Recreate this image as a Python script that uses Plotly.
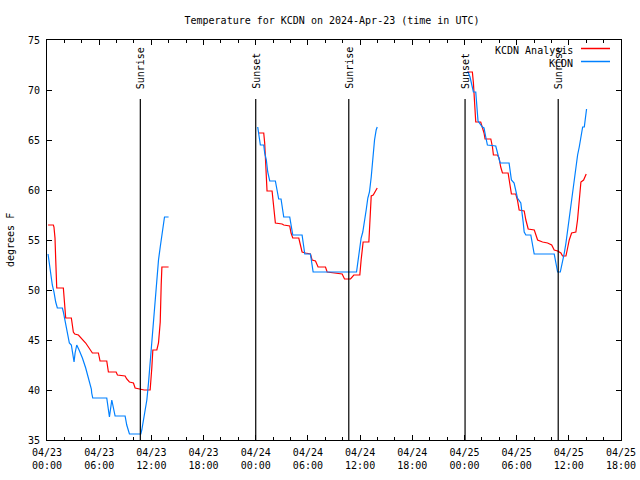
import pandas as pd
import plotly.graph_objects as go

# ---------------- data (hours after 2024-04-23 00:00 UTC, degrees F) ----------------
ana_h1 = [0.12, 0.73, 0.80, 0.92, 1.00, 1.12, 1.12, 1.88, 1.96, 2.07, 2.15, 2.80, 2.88, 3.03, 3.19,
          3.61, 4.45, 5.03, 5.22, 5.91, 6.10, 6.87, 7.06, 7.95, 8.10, 8.98, 9.17, 9.48, 9.94, 10.13,
          10.71, 11.17, 11.86, 11.94, 12.05, 12.17, 12.63, 12.82, 12.90, 13.02, 13.13, 13.21, 13.98]
ana_v1 = [56.5, 56.5, 56.3, 55.2, 53.1, 51.1, 50.2, 50.2, 48.9, 48.0, 47.2, 47.2, 46.8, 45.8, 45.6,
          45.5, 44.7, 44.0, 43.7, 43.7, 42.9, 42.9, 41.8, 41.8, 41.5, 41.4, 41.1, 40.8, 40.7, 40.2,
          40.1, 40.0, 40.0, 40.7, 42.2, 44.0, 44.0, 44.7, 45.5, 46.8, 50.5, 52.3, 52.3]

ana_h2 = [24.34, 24.92, 25.03, 25.10, 25.18, 25.30, 25.88, 26.07, 26.26, 27.03, 27.22, 27.91, 28.06,
          28.26, 28.95, 29.14, 29.33, 29.72, 30.29, 30.48, 30.87, 31.17, 32.02, 32.21, 33.10, 33.36,
          33.94, 34.21, 34.90, 35.28, 35.97, 36.12, 36.35, 37.01, 37.13, 37.28, 37.51, 37.74, 37.97]
ana_v2 = [65.7, 65.7, 64.7, 63.0, 60.8, 59.9, 59.9, 58.3, 56.7, 56.6, 56.5, 56.4, 55.7,
          55.2, 55.2, 54.5, 53.8, 53.7, 53.6, 53.0, 52.9, 52.3, 52.3, 51.8, 51.7, 51.6,
          51.6, 51.1, 51.1, 51.5, 51.5, 53.0, 54.8, 54.8, 57.0, 59.4, 59.5, 59.8, 60.2]

ana_h3 = [48.34, 48.91, 49.03, 49.18, 49.30, 49.87, 50.06, 50.25, 50.37, 51.03, 51.22, 51.33, 51.79,
          51.98, 52.17, 52.37, 53.02, 53.21, 53.40, 53.90, 54.09, 54.29, 54.87, 55.06, 55.33, 56.03,
          56.22, 56.41, 56.98, 57.56, 58.03, 58.32, 58.71, 59.09, 59.28, 59.67, 59.86, 60.05, 60.32,
          60.81, 61.00, 61.20, 61.39, 61.70, 61.85, 62.00]
ana_v3 = [71.8, 71.8, 70.7, 68.3, 66.8, 66.8, 66.3, 65.7, 65.1, 65.1, 64.3, 63.5, 63.5,
          63.2, 62.3, 61.7, 61.7, 60.5, 59.6, 59.6, 59.0, 58.0, 57.9, 57.0, 56.1, 56.0,
          55.5, 55.0, 54.8, 54.7, 54.5, 54.0, 53.9, 53.7, 53.4, 53.4, 54.2, 55.0, 55.7,
          55.8, 57.0, 58.7, 60.8, 61.0, 61.3, 61.6]

obs_h1 = [0.12, 0.23, 0.42, 0.61, 0.80, 0.88, 1.00, 1.19, 1.77, 1.88, 2.07, 2.26, 2.42, 2.57, 2.80,
          2.96, 3.11, 3.23, 3.42, 3.69, 4.07, 4.45, 4.84, 5.10, 5.14, 5.26, 6.87, 7.06, 7.18, 7.45,
          7.64, 7.83, 8.98, 9.17, 9.48, 10.79, 10.90, 11.09, 11.29, 11.48, 11.67, 11.86, 12.05,
          12.25, 12.44, 12.63, 12.82, 13.02, 13.28, 13.51, 13.98]
obs_v1 = [53.6, 52.8, 51.7, 50.5, 49.8, 49.3, 48.8, 48.2, 48.2, 47.8, 47.0, 46.0, 45.3, 44.7, 44.5,
          43.8, 42.8, 43.7, 44.5, 44.0, 43.2, 42.2, 41.0, 40.1, 39.7, 39.2, 39.2, 38.2, 37.3, 39.0,
          38.2, 37.4, 37.4, 36.5, 35.6, 35.6, 36.0, 37.0, 37.8, 39.0, 40.7, 42.7, 44.7,
          47.0, 49.3, 51.3, 53.0, 54.3, 55.7, 57.3, 57.3]

obs_h2 = [24.23, 24.34, 24.53, 24.92, 25.03, 25.22, 25.38, 25.61, 26.26, 26.45, 26.64, 26.91, 27.10,
          27.22, 27.91, 28.06, 28.26, 29.33, 29.52, 29.64, 30.29, 30.41, 30.60, 35.59, 35.74, 35.93,
          36.12, 36.31, 36.51, 36.70, 36.89, 37.08, 37.28, 37.47, 37.66, 37.85, 37.97]
obs_v2 = [66.3, 65.7, 64.5, 64.5, 63.7, 63.0, 61.8, 60.9, 60.9, 60.0, 59.1, 59.1, 58.0,
          57.3, 57.3, 56.3, 55.5, 55.5, 54.5, 53.6, 53.6, 52.7, 51.8, 51.8, 52.7, 54.0,
          55.2, 55.8, 56.8, 58.0, 59.2, 59.8, 61.3, 63.5, 65.0, 66.0, 66.3]

obs_h3 = [48.15, 48.41, 48.64, 48.83, 49.03, 49.30, 49.41, 49.56, 50.06, 50.25, 50.45, 50.64, 51.60,
          51.79, 51.98, 52.10, 53.13, 53.25, 53.40, 53.71, 53.90, 54.09, 54.48, 54.60, 54.75, 54.87,
          55.06, 55.63, 55.83, 56.02, 58.32, 58.51, 58.71, 59.02, 59.28, 59.48, 59.67, 59.86, 60.05,
          60.24, 60.44, 60.63, 60.82, 61.01, 61.20, 61.39, 61.59, 61.78, 61.89, 62.04]
obs_v3 = [71.7, 71.8, 71.3, 70.7, 69.8, 69.8, 68.3, 66.9, 66.3, 66.2, 65.3, 64.5, 64.4,
          63.7, 63.2, 62.7, 62.7, 61.8, 61.0, 60.7, 60.0, 59.2, 58.7, 58.0, 56.8, 55.8,
          55.5, 55.5, 54.5, 53.6, 53.6, 52.8, 51.8, 51.8, 52.7, 53.7, 54.7, 56.0, 57.3,
          58.7, 59.8, 61.0, 62.2, 63.5, 64.3, 65.5, 66.3, 66.3, 67.3, 68.1]

sun_h = [10.73, 24.00, 34.70, 48.07, 58.78]
sun_names = ["Sunrise", "Sunset", "Sunrise", "Sunset", "Sunrise"]

tick_h = [0, 6, 12, 18, 24, 30, 36, 42, 48, 54, 60, 66]
tick_text = ["04/23<br>00:00", "04/23<br>06:00", "04/23<br>12:00", "04/23<br>18:00",
             "04/24<br>00:00", "04/24<br>06:00", "04/24<br>12:00", "04/24<br>18:00",
             "04/25<br>00:00", "04/25<br>06:00", "04/25<br>12:00", "04/25<br>18:00"]
y_ticks = [35, 40, 45, 50, 55, 60, 65, 70, 75]

series_names = ["KCDN Analysis", "KCDN"]
series_colors = ["#ff0000", "#0080ff"]

# ---------------- build ----------------
base = pd.Timestamp("2024-04-23 00:00")


def to_t(hours):
    return [base + pd.Timedelta(hours=h) for h in hours]


def join(segs):
    xs, ys = [], []
    for hs, vs in segs:
        xs += to_t(hs) + [None]
        ys += list(vs) + [None]
    return xs, ys


FONT = "DejaVu Sans Mono"
L, R, T, B = 47, 19, 40, 40
PW, PH = 640 - L - R, 480 - T - B

fig = go.Figure()

ax, ay = join([(ana_h1, ana_v1), (ana_h2, ana_v2), (ana_h3, ana_v3)])
bx, by = join([(obs_h1, obs_v1), (obs_h2, obs_v2), (obs_h3, obs_v3)])
fig.add_trace(go.Scatter(x=ax, y=ay, mode="lines", name=series_names[0],
                         line=dict(color=series_colors[0], width=1.2), connectgaps=False))
fig.add_trace(go.Scatter(x=bx, y=by, mode="lines", name=series_names[1],
                         line=dict(color=series_colors[1], width=1.2), connectgaps=False))

for h, name in zip(sun_h, sun_names):
    t = base + pd.Timedelta(hours=h)
    fig.add_shape(type="line", x0=t, x1=t, y0=35, y1=69.1, xref="x", yref="y",
                  line=dict(color="black", width=1.2))
    fig.add_annotation(x=t, y=69.9, xref="x", yref="y", text=name, textangle=-90,
                       showarrow=False, xanchor="center", yanchor="bottom",
                       font=dict(family=FONT, size=10, color="black"))

# manual gnuplot-style legend (text, then line sample)
leg_py = [50, 63]      # pixel rows of legend entries
for name, col, py in zip(series_names, series_colors, leg_py):
    yy = 1 - (py - T) / PH
    fig.add_annotation(x=(575 - L) / PW, y=yy, xref="paper", yref="paper", text=name,
                       showarrow=False, xanchor="right", yanchor="middle",
                       font=dict(family=FONT, size=10, color="black"))
    yl = 1 - (py - 1.5 - T) / PH
    fig.add_shape(type="line", x0=(581 - L) / PW, x1=(610 - L) / PW, y0=yl, y1=yl,
                  xref="paper", yref="paper", line=dict(color=col, width=1.5))

# y axis title
fig.add_annotation(x=(10 - L) / PW, y=0.5, xref="paper", yref="paper", text="degrees F",
                   textangle=-90, showarrow=False, xanchor="center", yanchor="middle",
                   font=dict(family=FONT, size=10, color="black"))

fig.update_layout(
    width=640, height=480,
    margin=dict(l=L, r=R, t=T, b=B, autoexpand=False),
    paper_bgcolor="white", plot_bgcolor="white",
    showlegend=False,
    font=dict(family=FONT, size=10, color="black"),
    title=dict(text="Temperature for KCDN on 2024-Apr-23 (time in UTC)",
               x=332 / 640, xanchor="center", y=1 - 20 / 480, yanchor="middle",
               font=dict(family=FONT, size=10, color="black")),
)
fig.update_xaxes(
    type="date",
    range=[base, base + pd.Timedelta(hours=66)],
    tickmode="array", tickvals=to_t(tick_h), ticktext=tick_text,
    ticks="inside", ticklen=5, tickcolor="black", tickwidth=1,
    minor=dict(dtick=2 * 3600 * 1000, tick0=base, ticks="inside", ticklen=3,
               tickcolor="black", showgrid=False),
    showline=True, linecolor="black", linewidth=1, mirror="ticks",
    showgrid=False, zeroline=False, automargin=False, ticklabelstandoff=3,
    tickfont=dict(family=FONT, size=10, color="black"),
)
fig.update_yaxes(
    range=[35, 75], tickmode="array", tickvals=y_ticks,
    ticks="inside", ticklen=5, tickcolor="black",
    showline=True, linecolor="black", linewidth=1, mirror="ticks",
    showgrid=False, zeroline=False, automargin=False, ticklabelstandoff=4,
    tickfont=dict(family=FONT, size=10, color="black"),
)

fig.write_html("out.html", config={"displayModeBar": False, "staticPlot": True},
               post_script="document.body.style.margin='0';document.body.style.padding='0';")
